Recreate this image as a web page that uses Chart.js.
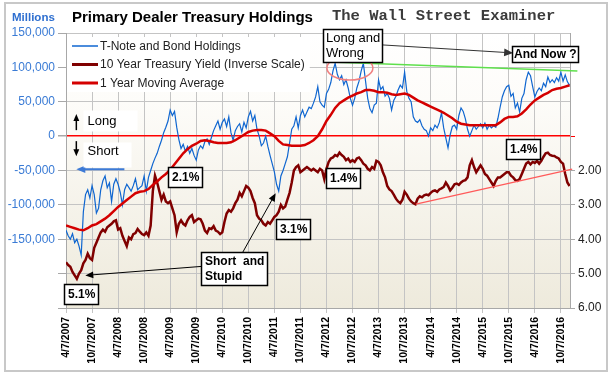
<!DOCTYPE html>
<html>
<head>
<meta charset="utf-8">
<title>Primary Dealer Treasury Holdings</title>
<script src="https://cdn.jsdelivr.net/npm/chart.js@4.4.1/dist/chart.umd.min.js"></script>
<style>
  html, body { margin: 0; padding: 0; background: #fff; }
  #wrap { width: 614px; height: 373px; }
</style>
</head>
<body>
<div id="wrap"><canvas id="chart" width="614" height="373"></canvas></div>
<script>
// x runs in months from 4/7/2007. Holdings and yields are read twice a month, the average monthly.
const tickLabels = ['4/7/2007', '10/7/2007', '4/7/2008', '10/7/2008', '4/7/2009', '10/7/2009',
  '4/7/2010', '10/7/2010', '4/7/2011', '10/7/2011', '4/7/2012', '10/7/2012', '4/7/2013',
  '10/7/2013', '4/7/2014', '10/7/2014', '4/7/2015', '10/7/2015', '4/7/2016', '10/7/2016'];

// T-Note and bond holdings, $ thousands of millions
const holdings = [
  -137, -145, -150, -142, -155, -150, -160, -173, -110, -85, -78, -90, -72, -85, -112, -105,
  -78, -65, -58, -75, -68, -95, -70, -62, -70, -82, -100, -78, -70, -75, -80, -72,
  -62, -78, -75, -72, -58, -80, -60, -50, -40, -32, -25, -15, -6,
  5, 13, 22, 38, 30, 36, 13, -5, -18, -12, -22, -15, -25, -18, -28, -35,
  -20, -14, -18, -8, -4, -12, -2, 8, 15, 22, 10, 20, 25, 14, 28, 5,
  -6, 8, 14, 18, 6, 20, 12, 28, 36, 22, 30, 10, 0, -14, -10,
  0, -15, -28, -40, -52, -70, -80, -58, -50, -40, -30, -10, 10, 15, 28, 12,
  30, 38, 28, 35, 42, 40, 48, 57, 72, 50, 45, 42, 62, 68, 78, 95,
  106, 90, 82, 88, 75, 82, 70, 55, 45, 55, 70, 80, 95, 106, 80, 55, 40,
  34, 45, 48, 82, 68, 72, 58, 62, 55, 38, 52, 58, 67, 74, 70, 93,
  65, 55, 50, 28, 22, 20, 24, 15, 10, 8, 0, 12, 8, 16, 12, 20,
  34, 12, -3, -17, 2, 14, 16, 10, 30, 41, 36, 25, 10, 0,
  8, 16, 10, 14, 18, 12, 19, 10, 16, 12, 15, 13, 26, 42, 57, 66,
  72, 74, 58, 62, 41, 48, 35, 55, 62, 82, 93, 88, 72, 57, 65, 70,
  66, 77, 72, 86, 78, 82, 78, 85, 80, 93, 80, 89, 79, 74
];

// 10 year Treasury yield, %
const yields = [
  4.67, 4.75, 4.8, 4.95, 5.05, 5.15, 5.0, 4.9, 4.7, 4.6, 4.42, 4.55, 4.6, 4.25, 4.1, 3.95,
  3.8, 3.72, 3.78, 3.65, 3.6, 3.55, 3.48, 3.45, 3.72, 3.68, 3.9, 4.05, 4.2, 3.95, 4.0, 3.85,
  3.82, 3.7, 3.78, 3.85, 3.88, 3.8, 3.9, 3.6, 2.6, 2.15, 2.35, 2.6, 2.85,
  2.7, 2.9, 2.95, 2.9, 3.1, 3.3, 3.8, 3.55, 3.45, 3.55, 3.6, 3.45, 3.35, 3.3, 3.5, 3.45,
  3.4, 3.42, 3.55, 3.75, 3.82, 3.68, 3.7, 3.62, 3.75, 3.78, 3.85, 3.8, 3.5, 3.25, 3.15, 3.2,
  3.1, 2.95, 2.85, 2.65, 2.75, 2.6, 2.45, 2.5, 2.6, 2.8, 2.95, 3.3, 3.4, 3.45, 3.55,
  3.6, 3.5, 3.55, 3.45, 3.35, 3.3, 3.2, 3.0, 3.1, 3.05, 2.85, 2.65, 2.35, 2.0, 1.9, 1.85,
  2.05, 2.0, 1.95, 1.9, 1.95, 2.0, 1.95, 2.0, 2.05, 1.95, 2.0, 2.25, 1.95, 1.75, 1.65, 1.62,
  1.55, 1.58, 1.48, 1.55, 1.6, 1.7, 1.65, 1.75, 1.7, 1.75, 1.65, 1.62, 1.7, 1.8, 1.85, 1.95, 2.0,
  1.9, 1.95, 1.72, 1.75, 1.85, 2.05, 2.2, 2.45, 2.55, 2.6, 2.7, 2.82, 2.9, 2.95, 2.85, 2.62,
  2.7, 2.82, 2.9, 2.95, 2.98, 2.82, 2.75, 2.78, 2.72, 2.7, 2.72, 2.65, 2.6, 2.58, 2.62, 2.55,
  2.52, 2.48, 2.35, 2.45, 2.58, 2.5, 2.4, 2.38, 2.42, 2.35, 2.3, 2.28, 2.2, 1.85,
  1.7, 1.9, 2.05, 1.95, 1.85, 1.95, 2.1, 2.15, 2.25, 2.35, 2.45, 2.3, 2.2, 2.2, 2.15, 2.1,
  2.05, 2.05, 2.15, 2.2, 2.28, 2.3, 2.25, 2.1, 1.95, 1.8, 1.75, 1.82, 1.75, 1.78, 1.72, 1.8,
  1.72, 1.6, 1.5, 1.48, 1.55, 1.57, 1.58, 1.62, 1.65, 1.75, 1.8, 2.1, 2.35, 2.45
];

// 1 year moving average of holdings, monthly
const movingAvg = [
  -130, -132, -134, -136, -137, -134, -130, -128, -124, -120, -115, -109, -103, -98, -93, -88,
  -83, -81, -80, -77, -71, -66, -60, -55, -49, -41, -33, -25, -19, -14, -11, -7,
  -6, -7, -9, -10, -10, -10, -9, -6, -2, 2, 6, 8, 9, 9, 8, 4,
  0, -7, -12, -13, -14, -14, -14, -13, -10, -6, 0, 10, 22, 31, 41, 48,
  52, 56, 59, 62, 64, 67, 67, 66, 64, 64, 63, 61, 60, 61, 62, 60,
  56, 52, 49, 46, 43, 40, 37, 34, 30, 26, 21, 18, 17, 16, 16, 16,
  16, 16, 16, 16, 20, 25, 28, 28, 29, 33, 39, 46, 52, 56, 60, 63,
  67, 69, 70, 72, 74
];

const HALF_MONTH = 0.5;
const X_MAX = 116.1;

// notes, in data units (x months, y holdings or yield)
const callouts = [
  { text: ['Long'], x: 10.2, y: 22.6, w: 54, h: 21, size: 13, bold: false, padX: 4, padY: 3.5, border: false },
  { text: ['Short'], x: 9.55, y: -26.2, w: 48, h: 25, size: 13, bold: false, padX: 4, padY: 2, border: false },
  { text: ['5.1%'], x: 3.42, y: -230.3 },
  { text: ['2.1%'], x: 27.3, y: -59.8 },
  { text: ['3.1%'], x: 52.3, y: -135.6 },
  { text: ['1.4%'], x: 63.9, y: -60.5 },
  { text: ['1.4%'], x: 105.3, y: -19 },
  { text: ['Short  and', 'Stupid'], x: 38.8, y: -193.1, lineH: 14.5, padY: 2 },
  { text: ['Long and', 'Wrong'], x: 65.96, y: 131.9, bold: false, size: 13, lineH: 15, padX: 2.5, padY: 1.5 },
  { text: ['And Now ?'], x: 110.4, y: 118.8, padX: 1.5, padY: 1 }
];

const arrows = [
  { from: [31.2, -189.5], to: [4.45, -202.6], color: '#000', width: 1, head: 8 },
  { from: [40.7, -169.1], to: [48.3, -83.1], color: '#000', width: 1, head: 8 },
  { from: [72.8, 132.7], to: [103.0, 121.0], color: '#333', width: 1, head: 9 },
  { from: [13.45, -48.1], to: [2.38, -48.1], color: '#3d7ad6', width: 2, head: 9 },
  { from: [2.38, 8.7], to: [2.38, 32.1], color: '#000', width: 1.5, head: 7 },
  { from: [2.38, -7.3], to: [2.38, -29.2], color: '#000', width: 1.5, head: 7 }
];

const guideLines = [
  { from: [61.0, 107.9], to: [117.8, 94.8], axis: 'y', color: '#5ee04c', width: 1.5 },
  { from: [80.6, 2.98], to: [116.6, 1.96], axis: 'y2', color: '#ff5a5a', width: 1.2 }
];

const ring = { x: 65.4, y: 99.1, rx: 23, ry: 12 };

const FONT = '"Liberation Sans", Arial, sans-serif';
Chart.defaults.font.family = FONT;

const toPx = (chart, x, y, axis = 'y') => ({
  x: chart.scales.x.getPixelForValue(x),
  y: chart.scales[axis].getPixelForValue(y)
});

function drawArrow(ctx, a, b, color, width, head) {
  const ang = Math.atan2(b.y - a.y, b.x - a.x);
  const cos = Math.cos(ang), sin = Math.sin(ang);
  ctx.strokeStyle = color;
  ctx.lineWidth = width;
  ctx.beginPath();
  ctx.moveTo(a.x, a.y);
  ctx.lineTo(b.x - cos * head * 0.7, b.y - sin * head * 0.7);
  ctx.stroke();
  ctx.fillStyle = color;
  ctx.beginPath();
  ctx.moveTo(b.x, b.y);
  ctx.lineTo(b.x - head * cos + head * 0.42 * sin, b.y - head * sin - head * 0.42 * cos);
  ctx.lineTo(b.x - head * cos - head * 0.42 * sin, b.y - head * sin + head * 0.42 * cos);
  ctx.closePath();
  ctx.fill();
}

const decor = {
  id: 'decor',
  beforeDraw(chart) {
    const { ctx, chartArea: a, width, height } = chart;
    ctx.save();
    ctx.fillStyle = '#fff';
    ctx.fillRect(0, 0, width, height);
    const g = ctx.createLinearGradient(0, a.top, 0, a.bottom);
    g.addColorStop(0, '#ffffff');
    g.addColorStop(0.25, '#fdfcf9');
    g.addColorStop(1, '#eeeadc');
    ctx.fillStyle = g;
    ctx.fillRect(a.left, a.top, a.right - a.left, a.bottom - a.top);
    ctx.strokeStyle = '#c8c8c8';
    ctx.lineWidth = 2;
    ctx.strokeRect(5, 3, 602, 368);
    ctx.restore();
  },
  afterDatasetsDraw(chart) {
    const ctx = chart.ctx;
    ctx.save();

    guideLines.forEach(l => {
      const a = toPx(chart, l.from[0], l.from[1], l.axis);
      const b = toPx(chart, l.to[0], l.to[1], l.axis);
      ctx.strokeStyle = l.color;
      ctx.lineWidth = l.width;
      ctx.beginPath();
      ctx.moveTo(a.x, a.y);
      ctx.lineTo(b.x, b.y);
      ctx.stroke();
    });

    const c0 = toPx(chart, ring.x, ring.y);
    ctx.strokeStyle = '#f08080';
    ctx.lineWidth = 1.5;
    ctx.beginPath();
    ctx.ellipse(c0.x, c0.y, ring.rx, ring.ry, 0, 0, Math.PI * 2);
    ctx.stroke();

    arrows.forEach(r => drawArrow(ctx, toPx(chart, r.from[0], r.from[1]), toPx(chart, r.to[0], r.to[1]), r.color, r.width, r.head));

    callouts.forEach(c => {
      const o = Object.assign({ size: 12, bold: true, lineH: 14, padX: 3.5, padY: 3, border: true }, c);
      const p = toPx(chart, o.x, o.y);
      ctx.font = `${o.bold ? 'bold ' : ''}${o.size}px ${FONT}`;
      const tw = Math.max(...o.text.map(t => ctx.measureText(t).width));
      const w = o.w || Math.round(tw + 2 * o.padX);
      const h = o.h || Math.round(o.text.length * o.lineH + 2 * o.padY);
      const left = Math.round(p.x - w / 2) + 0.5;
      const top = Math.round(p.y - h / 2) + 0.5;
      ctx.fillStyle = '#fff';
      ctx.fillRect(left, top, w, h);
      if (o.border) {
        ctx.strokeStyle = '#000';
        ctx.lineWidth = 1.5;
        ctx.strokeRect(left, top, w, h);
      }
      ctx.fillStyle = '#000';
      ctx.textAlign = 'left';
      ctx.textBaseline = 'middle';
      o.text.forEach((t, i) => ctx.fillText(t, left + o.padX, top + o.padY + o.lineH * (i + 0.5)));
    });
    ctx.restore();
  },
  afterDraw(chart) {
    const { ctx, chartArea: a } = chart;
    ctx.save();
    ctx.textAlign = 'left';
    ctx.textBaseline = 'alphabetic';

    ctx.fillStyle = '#000';
    ctx.font = `bold 15px ${FONT}`;
    ctx.fillText('Primary Dealer Treasury Holdings', 72, 21.5);

    ctx.fillStyle = '#2e6fd0';
    ctx.font = `bold 11.5px ${FONT}`;
    ctx.fillText('Millions', 12, 21);

    ctx.fillStyle = '#3b3b3b';
    ctx.font = 'bold 15.5px "Liberation Mono", "DejaVu Sans Mono", monospace';
    ctx.fillText('The Wall Street Examiner', 332, 20);

    // legend: one white panel, then the three rows
    ctx.font = `12px ${FONT}`;
    ctx.textBaseline = 'middle';
    const x0 = a.left + 6;
    const maxW = Math.max(...chart.data.datasets.map(ds => ctx.measureText(ds.label).width));
    ctx.fillStyle = '#fff';
    ctx.fillRect(a.left + 1, a.top + 4, x0 - a.left + 32 + maxW, 55);
    chart.data.datasets.forEach((ds, i) => {
      const y = a.top + 13 + i * 18.5;
      ctx.strokeStyle = ds.borderColor;
      ctx.lineWidth = ds.legendWidth;
      ctx.beginPath();
      ctx.moveTo(x0, y);
      ctx.lineTo(x0 + 26, y);
      ctx.stroke();
      ctx.fillStyle = '#222';
      ctx.fillText(ds.label, x0 + 28, y + 0.5);
    });
    ctx.restore();
  }
};

const gridGray = '#c4c4c4';

new Chart(document.getElementById('chart'), {
  type: 'line',
  data: {
    datasets: [
      {
        label: 'T-Note and Bond Holdings',
        data: holdings.map((v, i) => ({ x: i * HALF_MONTH, y: v })),
        yAxisID: 'y',
        borderColor: '#0f66d0',
        borderWidth: 1.2,
        legendWidth: 1.5,
        order: 2
      },
      {
        label: '10 Year Treasury Yield (Inverse Scale)',
        data: yields.map((v, i) => ({ x: i * HALF_MONTH, y: v })),
        yAxisID: 'y2',
        borderColor: '#800000',
        borderWidth: 2.5,
        legendWidth: 3,
        order: 1
      },
      {
        label: '1 Year Moving Average',
        data: movingAvg.map((v, i) => ({ x: i, y: v })),
        yAxisID: 'y',
        borderColor: '#d40000',
        borderWidth: 2.5,
        legendWidth: 3,
        order: 0
      }
    ]
  },
  options: {
    responsive: false,
    animation: false,
    devicePixelRatio: 1,
    layout: { padding: { top: 33, left: 0, right: 0, bottom: 0 } },
    elements: { point: { radius: 0 }, line: { tension: 0 } },
    plugins: { legend: { display: false }, tooltip: { enabled: false } },
    scales: {
      x: {
        type: 'linear',
        min: 0,
        max: X_MAX,
        afterFit: s => { s.height = 65; },
        grid: { color: gridGray, tickLength: 5 },
        border: { color: '#a8a8a8' },
        ticks: {
          stepSize: 6,
          maxTicksLimit: 40,
          includeBounds: false,
          autoSkip: false,
          minRotation: 90,
          maxRotation: 90,
          padding: 4,
          color: '#000',
          font: { size: 10.5, weight: 'bold' },
          callback: v => tickLabels[Math.round(v / 6)] || ''
        }
      },
      y: {
        position: 'left',
        min: -250,
        max: 150,
        afterFit: s => { s.width = 66; },
        grid: {
          color: c => c.tick && c.tick.value === 0 ? '#ff0000' : gridGray,
          lineWidth: c => c.tick && c.tick.value === 0 ? 1.5 : 1,
          tickColor: '#a8a8a8',
          tickLength: 8
        },
        border: { color: '#a8a8a8' },
        ticks: {
          stepSize: 50,
          padding: 3,
          color: '#3a7bd5',
          font: { size: 12 },
          callback: v => v < -150 ? '' : (v * 1000).toLocaleString('en-US')
        }
      },
      y2: {
        position: 'right',
        min: -2,
        max: 6,
        reverse: true,
        afterFit: s => { s.width = 44; },
        grid: {
          drawOnChartArea: false,
          tickLength: 5,
          tickColor: c => c.tick && c.tick.value === 1 ? '#ff0000' : (c.tick && c.tick.value >= 2 ? '#a8a8a8' : 'rgba(0,0,0,0)')
        },
        border: { color: '#a8a8a8' },
        ticks: {
          stepSize: 1,
          padding: 3,
          color: '#222',
          font: { size: 12 },
          callback: v => v >= 2 ? v.toFixed(2) : ''
        }
      }
    }
  },
  plugins: [decor]
});
</script>
</body>
</html>
